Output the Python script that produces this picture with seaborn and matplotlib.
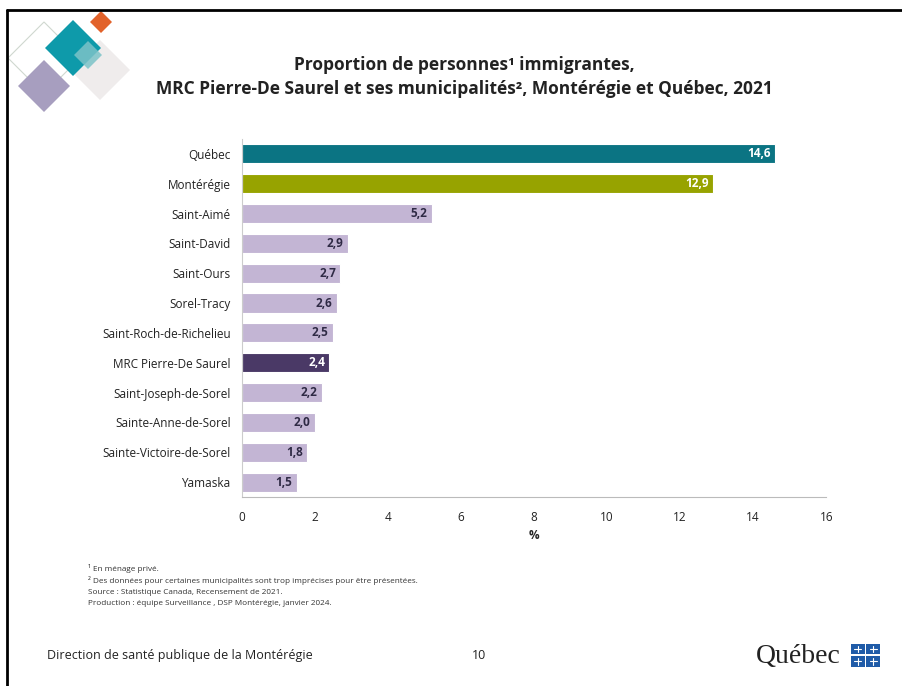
import matplotlib
matplotlib.use("Agg")
import matplotlib.pyplot as plt
import matplotlib.patches as mpatches
import seaborn as sns
import pandas as pd

# Données
regions = ['Québec', 'Montérégie', 'Saint-Aimé', 'Saint-David', 'Saint-Ours',
           'Sorel-Tracy', 'Saint-Roch-de-Richelieu', 'MRC Pierre-De Saurel',
           'Saint-Joseph-de-Sorel', 'Sainte-Anne-de-Sorel',
           'Sainte-Victoire-de-Sorel', 'Yamaska']
valeurs = [14.6, 12.9, 5.2, 2.9, 2.7, 2.6, 2.5, 2.4, 2.2, 2.0, 1.8, 1.5]
xticks = [0, 2, 4, 6, 8, 10, 12, 14, 16]

teal = '#0B7483'
olive = '#97A300'
lilas = '#C3B5D4'
violet = '#4A3966'
couleurs = {r: lilas for r in regions}
couleurs['Québec'] = teal
couleurs['Montérégie'] = olive
couleurs['MRC Pierre-De Saurel'] = violet

df = pd.DataFrame({'region': regions, 'valeur': valeurs})

sns.set_style('white')
plt.rcParams['font.family'] = ['Open Sans', 'DejaVu Sans']

fig = plt.figure(figsize=(9.02, 6.86), dpi=100)
ax = fig.add_axes([0.268, 0.2755, 0.648, 0.522])

sns.barplot(data=df, x='valeur', y='region', hue='region', palette=couleurs,
            dodge=False, legend=False, width=0.64, ax=ax, orient='h',
            saturation=1, edgecolor='white', linewidth=0.8)

for i, (r, v) in enumerate(zip(regions, valeurs)):
    c = 'white' if couleurs[r] != lilas else '#2F2A45'
    ax.text(v - 0.12, i, f'{v:.1f}'.replace('.', ','), ha='right', va='center',
            fontsize=8.5, fontweight='bold', color=c)

ax.set_xlim(0, 16)
ax.set_ylim(11.5, -0.5)
ax.set_xticks(xticks)
ax.set_xticklabels([str(t) for t in xticks], fontsize=8.5, color='#222222')
ax.tick_params(axis='x', length=4, color='#BBBBBB', width=0.8, pad=6)
ax.tick_params(axis='y', length=0, pad=8, labelsize=8.5, labelcolor='#222222')
ax.set_xlabel('%', fontsize=8.5, fontweight='bold', labelpad=4)
ax.set_ylabel('')
for s in ['top', 'right']:
    ax.spines[s].set_visible(False)
ax.spines['left'].set_color('#CCCCCC')
ax.spines['bottom'].set_color('#BBBBBB')
ax.spines['left'].set_linewidth(0.8)
ax.spines['bottom'].set_linewidth(0.8)

# Titre
fig.text(0.515, 0.905, 'Proportion de personnes¹ immigrantes,', ha='center',
         va='center', fontsize=12.5, fontweight='bold', color='#222222')
fig.text(0.515, 0.870, 'MRC Pierre-De Saurel et ses municipalités², Montérégie et Québec, 2021',
         ha='center', va='center', fontsize=12.5, fontweight='bold', color='#222222')

# Notes
notes = ['¹ En ménage privé.',
         '² Des données pour certaines municipalités sont trop imprécises pour être présentées.',
         'Source : Statistique Canada, Recensement de 2021.',
         'Production : équipe Surveillance , DSP Montérégie, janvier 2024.']
for k, n in enumerate(notes):
    fig.text(0.098, 0.171 - k * 0.0170, n, fontsize=5.9, color='#333333', va='center')

# Pied de page
fig.text(0.052, 0.045, 'Direction de santé publique de la Montérégie', fontsize=9,
         color='#222222', va='center')
fig.text(0.523, 0.045, '10', fontsize=9, color='#222222', va='center')
fig.text(0.838, 0.043, 'Québec', fontsize=20, color='#222222', va='center', ha='left',
         family=['Liberation Serif', 'DejaVu Serif'])
for dx in [0, 1]:
    for dy in [0, 1]:
        x0 = 0.943 + dx * 0.0175
        y0 = 0.028 + dy * 0.018
        fig.patches.append(mpatches.Rectangle((x0, y0), 0.0155, 0.0155,
                                              transform=fig.transFigure,
                                              facecolor='#1F5BA8', edgecolor='none'))
        fig.add_artist(plt.Line2D([x0 + 0.00775] * 2, [y0 + 0.003, y0 + 0.0125],
                                  transform=fig.transFigure, color='white', lw=0.8))
        fig.add_artist(plt.Line2D([x0 + 0.0035, x0 + 0.012], [y0 + 0.00775] * 2,
                                  transform=fig.transFigure, color='white', lw=0.8))

# Cadre de la diapositive
fig.add_artist(plt.Line2D([0.008, 1.0], [0.986, 0.986], transform=fig.transFigure,
                          color='black', lw=2))
fig.add_artist(plt.Line2D([0.008, 0.008], [0.0, 0.986], transform=fig.transFigure,
                          color='black', lw=2))

# Losanges décoratifs (centre en pixels, demi-diagonale en centaines de pixels)
def losange(px, py, r, fc, ec='none', alpha=1.0):
    cx = px / 902
    cy = 1 - py / 686
    w = r / 9.02
    h = r / 6.86
    p = mpatches.Polygon([(cx, cy + h), (cx + w, cy), (cx, cy - h), (cx - w, cy)],
                         closed=True, transform=fig.transFigure, facecolor=fc,
                         edgecolor=ec, alpha=alpha, lw=0.8)
    fig.patches.append(p)

losange(44, 58, 0.36, 'none', ec='#CFD8CF')
losange(100, 70, 0.30, '#EFECEC')
losange(44, 86, 0.26, '#A79EBF')
losange(73, 48, 0.28, '#0E9AAA')
losange(88, 55, 0.14, '#7CC3C8', alpha=0.85)
losange(101, 22, 0.11, '#E2622A')

fig.savefig('out.png', dpi=100)
